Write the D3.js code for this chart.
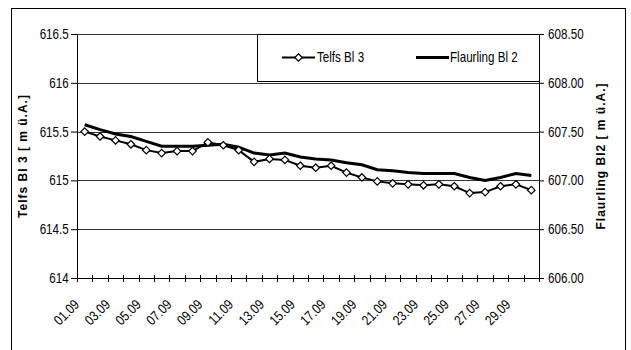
<!DOCTYPE html>
<html lang="en">
<head>
<meta charset="UTF-8">
<title>Telfs / Flaurling</title>
<style>
  body { margin: 0; background: #fff; }
  text { font-family: Arial, 'Liberation Sans', sans-serif; }
</style>
</head>
<body>
<div id="chart"></div>
<script src="https://d3js.org/d3.v7.min.js"></script>
<script>
// categories (days of September)
var dates = ["01.09","02.09","03.09","04.09","05.09","06.09","07.09","08.09","09.09","10.09",
             "11.09","12.09","13.09","14.09","15.09","16.09","17.09","18.09","19.09","20.09",
             "21.09","22.09","23.09","24.09","25.09","26.09","27.09","28.09","29.09","30.09"];

// Telfs Bl 3, left axis
var telfs = [615.50, 615.45, 615.41, 615.37, 615.31, 615.28, 615.30, 615.30, 615.39, 615.36,
             615.31, 615.19, 615.22, 615.21, 615.15, 615.13, 615.15, 615.08, 615.03, 614.99,
             614.97, 614.96, 614.95, 614.96, 614.94, 614.87, 614.88, 614.94, 614.96, 614.90];

// Flaurling Bl 2, right axis
var flaurling = [607.57, 607.52, 607.475, 607.45, 607.40, 607.35, 607.35, 607.35, 607.36, 607.37,
                 607.34, 607.28, 607.26, 607.28, 607.24, 607.22, 607.21, 607.18, 607.16, 607.11,
                 607.10, 607.08, 607.07, 607.07, 607.07, 607.03, 607.00, 607.03, 607.07, 607.05];

var leftTicks = [614, 614.5, 615, 615.5, 616, 616.5];
var rightTicks = [606, 606.5, 607, 607.5, 608, 608.5];

var W = 631, H = 350;
var plot = {left: 77, right: 539, top: 34, bottom: 278};
var narrow = 0.83; // the reference font is horizontally condensed

var svg = d3.select("#chart").append("svg")
    .attr("width", W).attr("height", H);

// outer chart border (bottom edge runs off the picture)
svg.append("rect")
    .attr("x", 11.5).attr("y", 8.5)
    .attr("width", 614).attr("height", 360)
    .attr("fill", "none").attr("stroke", "#000").attr("stroke-width", 1);

var x = d3.scaleBand().domain(dates).range([plot.left, plot.right]);
var yL = d3.scaleLinear().domain([614, 616.5]).range([plot.bottom, plot.top]);
var yR = d3.scaleLinear().domain([606, 608.5]).range([plot.bottom, plot.top]);

// gridlines
svg.append("g").selectAll("line")
    .data(leftTicks.slice(1)).enter().append("line")
    .attr("x1", plot.left).attr("x2", plot.right)
    .attr("y1", function (d) { return Math.round(yL(d)) + 0.5; })
    .attr("y2", function (d) { return Math.round(yL(d)) + 0.5; })
    .attr("stroke", "#333").attr("stroke-width", 1);

// left axis
var gl = svg.append("g").attr("transform", "translate(" + plot.left + ",0)")
    .call(d3.axisLeft(yL).tickValues(leftTicks).tickSize(6).tickPadding(4)
        .tickFormat(function (d) { return d; }));
// right axis
var gr = svg.append("g").attr("transform", "translate(" + plot.right + ",0)")
    .call(d3.axisRight(yR).tickValues(rightTicks).tickSize(5).tickPadding(6)
        .tickFormat(d3.format(".2f")));
[gl, gr].forEach(function (g) {
    g.select(".domain").attr("stroke", "#000");
    g.selectAll(".tick line").attr("stroke", "#000");
    g.selectAll("text").attr("font-size", 14).attr("fill", "#000")
        .attr("transform", "scale(" + narrow + ",1)")
        .style("font-family", "Arial, 'Liberation Sans', sans-serif");
});

// bottom axis: labels every second day
var gx = svg.append("g").attr("transform", "translate(0," + plot.bottom + ")")
    .call(d3.axisBottom(x).tickValues(dates.filter(function (d, i) { return i % 2 === 0; }))
        .tickSize(0));
gx.select(".domain").remove();
gx.selectAll("text")
    .attr("y", 0).attr("dy", "0.35em")
    .attr("text-anchor", "end")
    .attr("transform", "translate(-8,24) rotate(-45) scale(" + narrow + ",1)")
    .attr("font-size", 14).attr("fill", "#000")
    .style("font-family", "Arial, 'Liberation Sans', sans-serif");

svg.append("line")
    .attr("x1", plot.left).attr("x2", plot.right)
    .attr("y1", plot.bottom + 0.5).attr("y2", plot.bottom + 0.5)
    .attr("stroke", "#000");
// cross tick marks at category boundaries
svg.append("g").selectAll("line")
    .data(dates.map(function (d) { return x(d); }).concat([plot.right]))
    .enter().append("line")
    .attr("x1", function (d) { return Math.round(d) + 0.5; })
    .attr("x2", function (d) { return Math.round(d) + 0.5; })
    .attr("y1", plot.bottom - 3).attr("y2", plot.bottom + 4)
    .attr("stroke", "#000");

// axis titles
svg.append("text")
    .attr("transform", "translate(27," + ((plot.top + plot.bottom) / 2) + ") rotate(-90)")
    .attr("text-anchor", "middle")
    .attr("font-size", 12).attr("font-weight", "bold").attr("letter-spacing", 1)
    .text("Telfs Bl 3 [ m ü.A.]");
svg.append("text")
    .attr("transform", "translate(605," + ((plot.top + plot.bottom) / 2) + ") rotate(-90)")
    .attr("text-anchor", "middle")
    .attr("font-size", 12).attr("font-weight", "bold").attr("letter-spacing", 1)
    .text("Flaurling Bl2 [ m ü.A.]");

var cx = function (d) { return x(d) + x.bandwidth() / 2; };

// Flaurling line
svg.append("path")
    .datum(flaurling)
    .attr("fill", "none").attr("stroke", "#000").attr("stroke-width", 3)
    .attr("d", d3.line()
        .x(function (d, i) { return cx(dates[i]); })
        .y(function (d) { return yR(d); }));

// Telfs line with diamond markers
svg.append("path")
    .datum(telfs)
    .attr("fill", "none").attr("stroke", "#000").attr("stroke-width", 2)
    .attr("d", d3.line()
        .x(function (d, i) { return cx(dates[i]); })
        .y(function (d) { return yL(d); }));

var diamond = d3.symbol().type(d3.symbolDiamond2).size(36);
svg.append("g").selectAll("path")
    .data(telfs).enter().append("path")
    .attr("d", diamond)
    .attr("transform", function (d, i) { return "translate(" + cx(dates[i]) + "," + yL(d) + ")"; })
    .attr("fill", "#fff").attr("stroke", "#000").attr("stroke-width", 1.2);

// legend
var lg = svg.append("g");
lg.append("rect")
    .attr("x", 257.5).attr("y", 34.5).attr("width", 282).attr("height", 47)
    .attr("fill", "#fff").attr("stroke", "#000");
lg.append("line").attr("x1", 282).attr("x2", 315).attr("y1", 57.5).attr("y2", 57.5)
    .attr("stroke", "#000").attr("stroke-width", 2);
lg.append("path").attr("d", diamond).attr("transform", "translate(298.5,57.5)")
    .attr("fill", "#fff").attr("stroke", "#000").attr("stroke-width", 1.2);
lg.append("text").attr("transform", "translate(317,57.5) scale(" + narrow + ",1)")
    .attr("dy", "0.35em").attr("font-size", 14).text("Telfs Bl 3");
lg.append("line").attr("x1", 416).attr("x2", 449).attr("y1", 57.5).attr("y2", 57.5)
    .attr("stroke", "#000").attr("stroke-width", 3);
lg.append("text").attr("transform", "translate(450,57.5) scale(" + narrow + ",1)")
    .attr("dy", "0.35em").attr("font-size", 14).text("Flaurling Bl 2");
</script>
</body>
</html>
